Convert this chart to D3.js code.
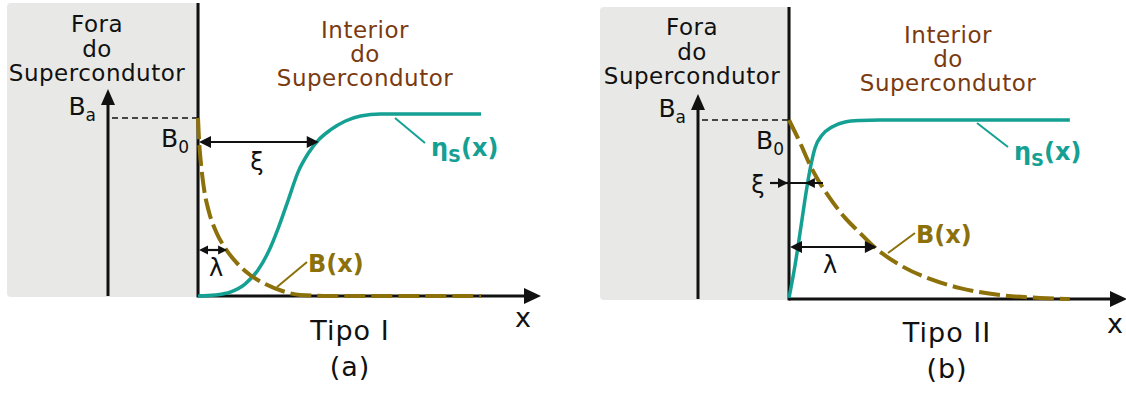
<!DOCTYPE html>
<html>
<head>
<meta charset="utf-8">
<script src="https://cdn.jsdelivr.net/npm/d3@7"></script>
<style>
  body { margin: 0; background: #fff; }
  text { font-family: "DejaVu Sans", Verdana, sans-serif; }
</style>
</head>
<body>
<svg id="chart" width="1126" height="394"></svg>
<script>
const width = 1126;
const height = 394;

// Curves (x in arbitrary depth units, y relative to B_a)
// Tipo I
const nsA_x = [0, 0.5, 0.94, 1.37, 1.75, 2.05, 2.34, 2.63, 2.92, 3.22, 3.51, 3.86, 4.3, 4.74, 5.32, 6.49, 8.25];
const nsA_y = [0, 0.006, 0.022, 0.067, 0.146, 0.247, 0.382, 0.539, 0.697, 0.803, 0.876, 0.933, 0.983, 1.011, 1.022, 1.022, 1.022];
const bA_x = [0, 0.03, 0.09, 0.18, 0.32, 0.53, 0.79, 1.11, 1.52, 1.96, 2.46, 2.98, 3.86, 8.25];
const bA_y = [1, 0.876, 0.736, 0.596, 0.472, 0.36, 0.27, 0.19, 0.118, 0.067, 0.028, 0.006, 0, 0];
// Tipo II
const nsB_x = [0, 0.18, 0.33, 0.47, 0.62, 0.77, 0.98, 1.27, 1.66, 2.1, 2.69, 8.31];
const nsB_y = [0.006, 0.19, 0.374, 0.553, 0.721, 0.844, 0.916, 0.961, 0.989, 0.997, 1, 1];
const bB_x = [0, 0.33, 0.62, 0.86, 1.21, 1.66, 2.1, 2.49, 3.28, 4.17, 5.06, 6.24, 7.43, 8.31];
const bB_y = [1, 0.872, 0.749, 0.665, 0.564, 0.453, 0.369, 0.296, 0.19, 0.112, 0.061, 0.022, 0.006, 0];

// characteristic lengths
const xiA = 3.52, lambdaA = 0.85;
const xiB = 0.47, lambdaB = 2.6;

const outsideLabel = ["Fora", "do", "Supercondutor"];
const insideLabel = ["Interior", "do", "Supercondutor"];

const teal = "#14a093";
const gold = "#8c700a";
const brown = "#7a3a10";

const svg = d3.select("#chart");

function pts(xs, ys) { return xs.map((d, i) => [d, ys[i]]); }

function triangle(g, tipX, tipY, dir, len, half) {
  // dir: "left", "right", "up"
  let p;
  if (dir === "right") p = [[tipX, tipY], [tipX - len, tipY - half], [tipX - len, tipY + half]];
  else if (dir === "left") p = [[tipX, tipY], [tipX + len, tipY - half], [tipX + len, tipY + half]];
  else p = [[tipX, tipY], [tipX - half, tipY + len], [tipX + half, tipY + len]];
  g.append("path").attr("d", "M" + p.join("L") + "Z").attr("fill", "#111");
}

function panel(cfg) {
  const g = svg.append("g");
  const x = d3.scaleLinear().domain([0, 10]).range([cfg.x0, cfg.x1]);
  const y = d3.scaleLinear().domain([0, 1]).range([cfg.base, cfg.top]);

  // outside region
  g.append("rect")
    .attr("x", cfg.grayX).attr("y", cfg.grayY)
    .attr("width", cfg.x0 - cfg.grayX).attr("height", cfg.base + 1 - cfg.grayY)
    .attr("rx", 4).attr("fill", "#e8e8e6");
  g.append("rect")
    .attr("x", cfg.x0 - 2).attr("y", cfg.grayY)
    .attr("width", 4).attr("height", cfg.base + 1 - cfg.grayY)
    .attr("fill", "#e8e8e6");

  // B axis (outside)
  g.append("line")
    .attr("x1", cfg.bx).attr("x2", cfg.bx)
    .attr("y1", cfg.base).attr("y2", cfg.btip + 12)
    .attr("stroke", "#111").attr("stroke-width", 3);
  triangle(g, cfg.bx, cfg.btip, "up", 16, 7);

  // B_a dashed level
  g.append("line")
    .attr("x1", cfg.bx + 4).attr("x2", cfg.x0)
    .attr("y1", y(1)).attr("y2", y(1))
    .attr("stroke", "#111").attr("stroke-width", 1.5)
    .attr("stroke-dasharray", "6,4");

  // boundary line
  g.append("line")
    .attr("x1", cfg.x0).attr("x2", cfg.x0)
    .attr("y1", cfg.grayY).attr("y2", cfg.base + 1.5)
    .attr("stroke", "#111").attr("stroke-width", 3);

  // x axis
  g.append("line")
    .attr("x1", cfg.x0).attr("x2", cfg.x1 - 12)
    .attr("y1", cfg.base).attr("y2", cfg.base)
    .attr("stroke", "#111").attr("stroke-width", 3);
  triangle(g, cfg.x1, cfg.base, "right", 17, 8);

  const line = d3.line().x(d => x(d[0])).y(d => y(d[1])).curve(d3.curveMonotoneX);

  // n_s(x)
  g.append("path")
    .attr("d", line(pts(cfg.nsX, cfg.nsY)))
    .attr("fill", "none").attr("stroke", teal).attr("stroke-width", 3.5);

  // B(x)
  g.append("path")
    .attr("d", line(pts(cfg.bX, cfg.bY)))
    .attr("fill", "none").attr("stroke", gold).attr("stroke-width", 4)
    .attr("stroke-dasharray", "21,6");

  // labels outside
  g.selectAll(".out").data(outsideLabel).enter().append("text")
    .attr("x", cfg.outCx).attr("y", (d, i) => cfg.outY + i * 24.5)
    .attr("text-anchor", "middle").attr("font-size", 23).attr("letter-spacing", 0.5)
    .attr("fill", "#111")
    .text(d => d);
  g.selectAll(".in").data(insideLabel).enter().append("text")
    .attr("x", cfg.inCx).attr("y", (d, i) => cfg.inY + i * 24)
    .attr("text-anchor", "middle").attr("font-size", 23).attr("letter-spacing", 0.5)
    .attr("fill", brown)
    .text(d => d);

  // B_a and B_0
  const ba = g.append("text").attr("x", cfg.baX).attr("y", y(1) - 3)
    .attr("text-anchor", "end").attr("font-size", 25).attr("fill", "#111");
  ba.append("tspan").text("B");
  ba.append("tspan").attr("font-size", 17).attr("dy", 6).text("a");
  const b0 = g.append("text").attr("x", cfg.b0X).attr("y", y(1) + 29)
    .attr("text-anchor", "end").attr("font-size", 25).attr("fill", "#111");
  b0.append("tspan").text("B");
  b0.append("tspan").attr("font-size", 17).attr("dy", 6).text("0");

  // n_s label + leader
  g.append("line")
    .attr("x1", cfg.nsLead[0]).attr("y1", cfg.nsLead[1])
    .attr("x2", cfg.nsLead[2]).attr("y2", cfg.nsLead[3])
    .attr("stroke", teal).attr("stroke-width", 2);
  const ns = g.append("text").attr("x", cfg.nsLead[2] + 6).attr("y", cfg.nsLead[3] + 13)
    .attr("font-size", 24).attr("font-weight", "bold").attr("fill", teal);
  ns.append("tspan").text("η");
  ns.append("tspan").attr("font-size", 18).attr("dy", 6).text("S");
  ns.append("tspan").attr("dy", -6).text("(x)");

  // B(x) label + leader
  g.append("line")
    .attr("x1", cfg.bLead[0]).attr("y1", cfg.bLead[1])
    .attr("x2", cfg.bLead[2]).attr("y2", cfg.bLead[3])
    .attr("stroke", gold).attr("stroke-width", 2);
  g.append("text").attr("x", cfg.bLead[2] + 1).attr("y", cfg.bLead[3] + 10)
    .attr("font-size", 24).attr("font-weight", "bold").attr("fill", gold)
    .text("B(x)");

  // x label, type, letter
  g.append("text").attr("x", cfg.xLab[0]).attr("y", cfg.xLab[1])
    .attr("text-anchor", "middle").attr("font-size", 27).attr("fill", "#111").text("x");
  g.append("text").attr("x", cfg.typeCx).attr("y", cfg.typeY)
    .attr("text-anchor", "middle").attr("font-size", 27).attr("letter-spacing", 1)
    .attr("fill", "#111").text(cfg.type);
  g.append("text").attr("x", cfg.typeCx).attr("y", cfg.typeY + 36)
    .attr("text-anchor", "middle").attr("font-size", 27).attr("letter-spacing", 1)
    .attr("fill", "#111").text(cfg.letter);

  return { g, x, y };
}

function dimArrow(g, xa, xb, yy, head) {
  g.append("line").attr("x1", xa + head - 2).attr("x2", xb - head + 2)
    .attr("y1", yy).attr("y2", yy).attr("stroke", "#111").attr("stroke-width", 2.2);
  triangle(g, xa, yy, "left", head, head * 0.5);
  triangle(g, xb, yy, "right", head, head * 0.5);
}

// ---- panel (a)
const pa = panel({
  x0: 198, x1: 541, base: 296, top: 118,
  grayX: 7, grayY: 3, bx: 108, btip: 89,
  nsX: nsA_x, nsY: nsA_y, bX: bA_x, bY: bA_y,
  outCx: 97, outY: 32, inCx: 365, inY: 38,
  baX: 96, b0X: 189,
  nsLead: [395, 118, 425, 143], bLead: [277, 287, 307, 262],
  xLab: [523, 327], typeCx: 350, typeY: 340, type: "Tipo I", letter: "(a)"
});
dimArrow(pa.g, pa.x(0) + 1, pa.x(xiA), 142, 12);
pa.g.append("text").attr("x", 257).attr("y", 170).attr("text-anchor", "middle")
  .attr("font-size", 24).attr("fill", "#111").text("ξ");
dimArrow(pa.g, pa.x(0) + 1, pa.x(lambdaA), 250, 9);
pa.g.append("text").attr("x", 216).attr("y", 276).attr("text-anchor", "middle")
  .attr("font-size", 24).attr("fill", "#111").text("λ");

// ---- panel (b)
const pb = panel({
  x0: 789, x1: 1127, base: 299, top: 120,
  grayX: 600, grayY: 7, bx: 698, btip: 94,
  nsX: nsB_x, nsY: nsB_y, bX: bB_x, bY: bB_y,
  outCx: 692, outY: 35, inCx: 948, inY: 43,
  baX: 686, b0X: 784,
  nsLead: [977, 123, 1008, 147], bLead: [888, 253, 915, 233],
  xLab: [1115, 333], typeCx: 947, typeY: 342, type: "Tipo II", letter: "(b)"
});
// xi shown with outside arrows
pb.g.append("line").attr("x1", 770).attr("x2", pb.x(0)).attr("y1", 183).attr("y2", 183)
  .attr("stroke", "#111").attr("stroke-width", 2.2);
triangle(pb.g, pb.x(0) - 1, 183, "right", 10, 5);
pb.g.append("line").attr("x1", pb.x(0)).attr("x2", 823).attr("y1", 183).attr("y2", 183)
  .attr("stroke", "#111").attr("stroke-width", 2.2);
triangle(pb.g, pb.x(xiB), 183, "left", 10, 5);
pb.g.append("text").attr("x", 758).attr("y", 193).attr("text-anchor", "middle")
  .attr("font-size", 24).attr("fill", "#111").text("ξ");
dimArrow(pb.g, pb.x(0) + 1, pb.x(lambdaB), 247, 12);
pb.g.append("text").attr("x", 830).attr("y", 273).attr("text-anchor", "middle")
  .attr("font-size", 24).attr("fill", "#111").text("λ");
</script>
</body>
</html>
